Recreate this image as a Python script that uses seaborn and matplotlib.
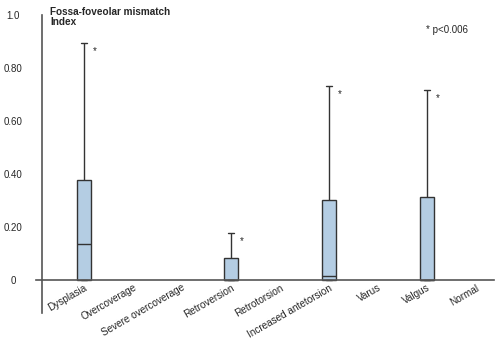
import matplotlib
matplotlib.use("Agg")
import matplotlib.pyplot as plt
import seaborn as sns
import pandas as pd
import numpy as np

categories = ["Dysplasia", "Overcoverage", "Severe overcoverage", "Retroversion",
              "Retrotorsion", "Increased antetorsion", "Varus", "Valgus", "Normal"]
groups = ["Dysplasia", "Retroversion", "Increased antetorsion", "Valgus"]
mins = [0.0, 0.0, 0.0, 0.0]
q1 = [0.0, 0.0, 0.0, 0.0]
medians = [0.135, 0.0, 0.015, 0.0]
q3 = [0.378, 0.082, 0.300, 0.312]
maxs = [0.895, 0.178, 0.732, 0.717]
significant = [True, True, True, True]
yticks_major = [0.0, 0.2, 0.4, 0.6, 0.8, 1.0]
ytick_labels = ["0", "0.20", "0.40", "0.60", "0.80", "1.0"]
yticks_minor = [0.1, 0.3, 0.5, 0.7, 0.9]

rows = []
for g, a, b, c, d, e in zip(groups, mins, q1, medians, q3, maxs):
    for v in (a, b, c, d, e):
        rows.append({"group": g, "value": v})
df = pd.DataFrame(rows)

sns.set_style("white")
plt.rcParams["font.family"] = ["Liberation Sans", "DejaVu Sans"]

fig = plt.figure(figsize=(5.01, 3.45), dpi=100)
ax = fig.add_axes([36/501, 1-313/345, (494-36)/501, (313-15)/345])

edge = "#333333"
sns.boxplot(data=df, x="group", y="value", order=categories, ax=ax,
            width=0.29, whis=(0, 100), color="#b4cde3", saturation=1,
            linecolor=edge, linewidth=1.0, fliersize=0,
            capwidths=0.12)

ax.set_xlim(-0.98, 8.37)
ax.set_ylim(-0.125, 1.0)
ax.set_xlabel("")
ax.set_ylabel("")

for s in ["top", "right"]:
    ax.spines[s].set_visible(False)
ax.spines["bottom"].set_position(("data", 0))
ax.spines["left"].set_position(("data", -0.857))
ax.spines["left"].set_bounds(-0.125, 1.0)
for s in ["bottom", "left"]:
    ax.spines[s].set_color("#555555")
    ax.spines[s].set_linewidth(1.2)

ax.set_yticks(yticks_major)
ax.set_yticklabels(ytick_labels)
ax.set_yticks(yticks_minor, minor=True)
ax.tick_params(axis="y", which="both", direction="out", length=7, width=1.2,
               color="#555555", labelsize=7, pad=14)
for lab in ax.get_yticklabels():
    lab.set_horizontalalignment("center")

ax.tick_params(axis="x", direction="in", length=4, width=1, color="#555555",
               labelsize=7.2, pad=2)
ax.set_xticks(range(len(categories)))
ax.set_xticklabels(categories, rotation=30, ha="right", rotation_mode="anchor")

for i, g in enumerate(groups):
    if significant[i]:
        xi = categories.index(g)
        ax.text(xi + 0.18, maxs[i] - 0.03, "*", fontsize=7, ha="left", va="center")

fig.text(50/501, 1-17/345, "Fossa-foveolar mismatch\nIndex", fontsize=7.2,
         fontweight="bold", ha="left", va="center", linespacing=1.05)
fig.text(426/501, 1-30/345, "* p<0.006", fontsize=7, ha="left", va="center")

fig.savefig("out.png", dpi=100)
